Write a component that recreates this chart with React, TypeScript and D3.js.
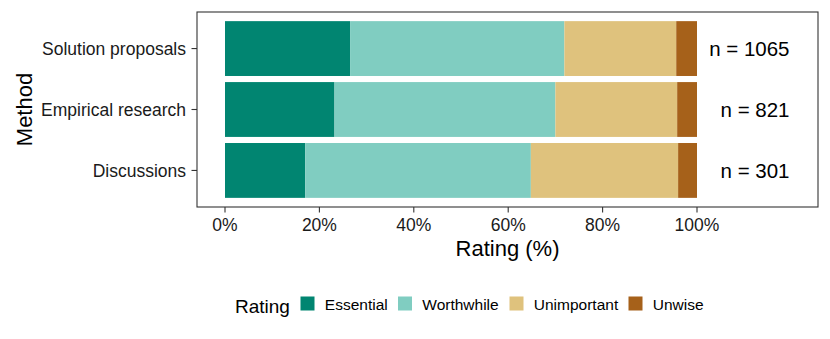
import React from "react";
import * as d3 from "d3";

const methods = ["Solution proposals", "Empirical research", "Discussions"];
const ratings = ["Essential", "Worthwhile", "Unimportant", "Unwise"];
const essential = [26.5, 23.2, 17.0];
const worthwhile = [45.4, 46.8, 47.8];
const unimportant = [23.7, 25.8, 31.2];
const unwise = [4.4, 4.2, 4.0];
const counts = [1065, 821, 301];
const xTicks = [0, 20, 40, 60, 80, 100];
const colors = ["#018571", "#80cdc1", "#dfc27d", "#a6611a"];

const W = 830;
const H = 339;
const panel = { left: 197, top: 12, right: 818, bottom: 207 };
const FONT = "'Liberation Sans', Arial, Helvetica, sans-serif";

export default function App() {
  const x = d3.scaleLinear().domain([0, 100]).range([225, 697]);
  const y = d3
    .scaleBand<string>()
    .domain(methods)
    .range([panel.top, panel.bottom])
    .paddingInner(0.1)
    .paddingOuter(0.15);
  const bw = y.bandwidth();

  const rows = methods.map((m, i) => ({
    method: m,
    Essential: essential[i],
    Worthwhile: worthwhile[i],
    Unimportant: unimportant[i],
    Unwise: unwise[i],
  }));
  const stacked = d3.stack<any>().keys(ratings)(rows);
  const color = d3.scaleOrdinal<string, string>().domain(ratings).range(colors);

  const axisColor = "#333333";
  const legendKeyX = [300.5, 398, 509.5, 628.5];

  return (
    <svg
      width={W}
      height={H}
      style={{ position: "absolute", left: 0, top: 0, background: "#fff" }}
      fontFamily={FONT}
    >
      <rect x={0} y={0} width={W} height={H} fill="#fff" />
      {stacked.map((series) =>
        series.map((d, i) => (
          <rect
            key={series.key + i}
            x={x(d[0])}
            width={x(d[1]) - x(d[0])}
            y={y(methods[i])!}
            height={bw}
            fill={color(series.key)}
          />
        ))
      )}
      {methods.map((m, i) => (
        <text
          key={"n" + m}
          x={789.5}
          y={y(m)! + bw / 2 + 7.3}
          textAnchor="end"
          fontSize={20.5}
          fill="#000"
        >
          {`n = ${counts[i]}`}
        </text>
      ))}
      <rect
        x={panel.left}
        y={panel.top}
        width={panel.right - panel.left}
        height={panel.bottom - panel.top}
        fill="none"
        stroke={axisColor}
        strokeWidth={1.1}
      />
      {methods.map((m) => {
        const cy = y(m)! + bw / 2;
        return (
          <g key={"yt" + m}>
            <line x1={panel.left - 5.5} x2={panel.left} y1={cy} y2={cy} stroke={axisColor} strokeWidth={1.1} />
            <text x={186} y={cy + 6.2} textAnchor="end" fontSize={17.5} fill="#1a1a1a">
              {m}
            </text>
          </g>
        );
      })}
      {xTicks.map((t) => (
        <g key={"xt" + t}>
          <line x1={x(t)} x2={x(t)} y1={panel.bottom} y2={panel.bottom + 5.5} stroke={axisColor} strokeWidth={1.1} />
          <text x={x(t)} y={230.7} textAnchor="middle" fontSize={17.5} fill="#1a1a1a">
            {`${t}%`}
          </text>
        </g>
      ))}
      <text
        x={(panel.left + panel.right) / 2}
        y={256}
        textAnchor="middle"
        fontSize={22}
        fill="#000"
      >
        Rating (%)
      </text>
      <text
        transform={`translate(31.7, ${(panel.top + panel.bottom) / 2}) rotate(-90)`}
        textAnchor="middle"
        fontSize={22}
        fill="#000"
      >
        Method
      </text>
      <text x={235} y={313} fontSize={19} fill="#000">
        Rating
      </text>
      {ratings.map((r, i) => (
        <g key={"lg" + r}>
          <rect x={legendKeyX[i]} y={296.5} width={14} height={14} fill={color(r)} />
          <text x={legendKeyX[i] + 24.3} y={310} fontSize={15.5} fill="#000">
            {r}
          </text>
        </g>
      ))}
    </svg>
  );
}
